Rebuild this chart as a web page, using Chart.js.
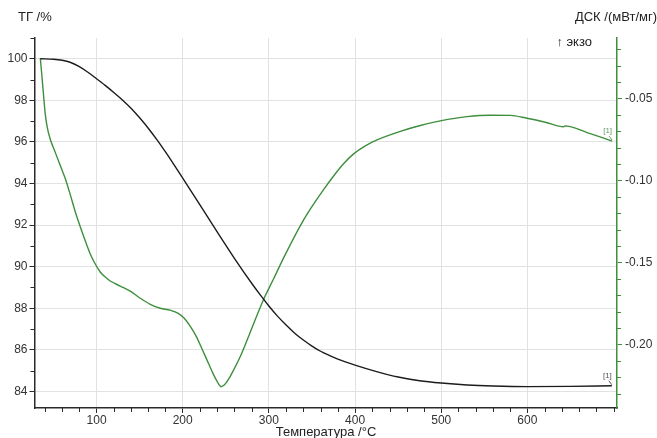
<!DOCTYPE html>
<html lang="ru">
<head>
<meta charset="utf-8">
<title>ТГ / ДСК</title>
<script src="https://cdn.jsdelivr.net/npm/chart.js@4.4.1/dist/chart.umd.min.js"></script>
<style>
  html, body { margin: 0; padding: 0; background: #fff; }
  #chartBox { width: 657px; height: 438px; }
</style>
</head>
<body>
<div id="chartBox"><canvas id="tgChart" width="657" height="438"></canvas></div>
<script>
// TG curve: temperature (°C) and remaining mass (%)
const tgTemp = [35, 50, 60, 70, 80, 90, 100, 110, 120, 130, 140, 150, 160, 170, 180, 190, 200, 220, 240, 260, 280, 290,
                300, 310, 320, 330, 340, 350, 360, 370, 380, 400, 425, 450, 475, 500, 530, 560, 600, 650, 698];
const tgMass = [100.0, 99.98, 99.93, 99.82, 99.62, 99.35, 99.04, 98.72, 98.38, 98.02, 97.62, 97.16, 96.66, 96.11, 95.52, 94.9, 94.26, 92.97, 91.67, 90.4, 89.2, 88.64,
                88.11, 87.62, 87.19, 86.8, 86.47, 86.18, 85.93, 85.73, 85.55, 85.26, 84.95, 84.69, 84.51, 84.4, 84.31, 84.26, 84.23, 84.24, 84.27];

// DSC curve: temperature (°C) and heat flow (mW/mg)
const dscTemp = [34.7, 36.4, 38.1, 40.5, 42.8, 46.3, 52.1, 57.9, 63.7, 69.5, 75.3, 81.1, 86.9, 92.7, 98.5, 104.3, 110.1, 115.9, 127.5, 139.1,
                 150.7, 162.3, 173.9, 185.5, 194.8, 201.8, 208.8, 215.7, 222.7, 229.7, 235.5, 240.1, 244.4, 248.2, 252.9, 258.7, 266.8, 277.6,
                 293.2, 305.1, 317.1, 336.4, 348.0, 363.5, 375.1, 386.4, 398.3, 411.9, 425.5, 452.5, 475.7, 498.9, 529.9, 557.0, 580.2, 599.6, 620.8,
                 642.1, 643.5, 669.3, 698.3];
const dscFlow = [-0.0252, -0.0350, -0.0454, -0.0595, -0.0675, -0.0748, -0.0828, -0.0908, -0.0988, -0.1086, -0.1190, -0.1282, -0.1368, -0.1448, -0.1509, -0.1558, -0.1589, -0.1613, -0.1644, -0.1675,
                 -0.1718, -0.1755, -0.1779, -0.1791, -0.1810, -0.1840, -0.1890, -0.1951, -0.2031, -0.2113, -0.2181, -0.2227, -0.2258, -0.2248, -0.2215, -0.2160, -0.2074, -0.1936,
                 -0.1733, -0.1604, -0.1472, -0.1276, -0.1175, -0.1055, -0.0972, -0.0899, -0.0837, -0.0788, -0.0752, -0.0700, -0.0664, -0.0636, -0.0610, -0.0601, -0.0602, -0.0620, -0.0644,
                 -0.0672, -0.0666, -0.0707, -0.0759];

// tick labels
const tempTicks = [100, 200, 300, 400, 500, 600];
const massTicks = [84, 86, 88, 90, 92, 94, 96, 98, 100];
const dscTicks = [-0.20, -0.15, -0.10, -0.05];

document.addEventListener('DOMContentLoaded', function() {
    const FONT = '"Liberation Sans", Arial, sans-serif';
    const GREEN = '#3d8f3d';
    const DARK = '#2a2a2a';

    // small unlabelled ticks between the major ones + captions
    const axisDecor = {
        id: 'axisDecor',
        afterDraw(chart) {
            const ctx = chart.ctx;
            const area = chart.chartArea;
            const sx = chart.scales.x, sy = chart.scales.y, sy2 = chart.scales.y2;
            ctx.save();
            ctx.lineWidth = 1;

            ctx.strokeStyle = DARK;
            ctx.beginPath();
            for (let t = 40; t <= 700; t += 20) {
                if (t % 100 === 0 && t <= 600) continue;
                const px = Math.round(sx.getPixelForValue(t)) + 0.5;
                ctx.moveTo(px, area.bottom);
                ctx.lineTo(px, area.bottom + 4);
            }
            for (let m = 85; m <= 101; m += 2) {
                const py = Math.round(sy.getPixelForValue(m)) + 0.5;
                ctx.moveTo(area.left - 4, py);
                ctx.lineTo(area.left, py);
            }
            ctx.stroke();

            ctx.strokeStyle = GREEN;
            ctx.beginPath();
            for (let k = -23; k <= -2; k++) {
                if (k % 5 === 0) continue;
                const py = Math.round(sy2.getPixelForValue(k / 100)) + 0.5;
                ctx.moveTo(area.right, py);
                ctx.lineTo(area.right + 4, py);
            }
            ctx.stroke();

            // captions
            ctx.fillStyle = '#222';
            ctx.font = '13px ' + FONT;
            ctx.textBaseline = 'middle';
            ctx.textAlign = 'left';
            ctx.fillText('ТГ /%', 18, 17);
            ctx.textAlign = 'right';
            ctx.fillText('ДСК /(мВт/мг)', 657, 17);
            ctx.fillText('↑ экзо', 592, 42);
            ctx.textAlign = 'center';
            ctx.fillText('Температура /°C', 326, 432);

            // [1] markers at the curve ends
            ctx.font = '8px ' + FONT;
            ctx.textAlign = 'right';
            ctx.textBaseline = 'bottom';
            const ends = [
                [tgTemp[tgTemp.length - 1], sy.getPixelForValue(tgMass[tgMass.length - 1]), '#555'],
                [dscTemp[dscTemp.length - 1], sy2.getPixelForValue(dscFlow[dscFlow.length - 1]), '#6a9a6a']
            ];
            ends.forEach(([t, py, col]) => {
                const px = sx.getPixelForValue(t);
                ctx.fillStyle = col;
                ctx.strokeStyle = col;
                ctx.fillText('[1]', px, py - 6);
                ctx.beginPath();
                ctx.moveTo(px - 3, py - 5);
                ctx.lineTo(px, py - 1);
                ctx.stroke();
            });
            ctx.restore();
        }
    };

    function buildChart() {
        const ctx = document.getElementById('tgChart').getContext('2d');
        new Chart(ctx, {
            type: 'line',
            data: {
                datasets: [{
                    label: 'ТГ',
                    data: tgTemp.map((t, i) => ({ x: t, y: tgMass[i] })),
                    yAxisID: 'y',
                    borderColor: '#1c1c1c',
                    borderWidth: 1.4,
                    pointRadius: 0,
                    cubicInterpolationMode: 'monotone'
                }, {
                    label: 'ДСК',
                    data: dscTemp.map((t, i) => ({ x: t, y: dscFlow[i] })),
                    yAxisID: 'y2',
                    borderColor: GREEN,
                    borderWidth: 1.4,
                    pointRadius: 0,
                    cubicInterpolationMode: 'monotone'
                }]
            },
            options: {
                responsive: false,
                animation: false,
                layout: { padding: { top: 38, left: 0, right: 0, bottom: 0 } },
                plugins: { legend: { display: false }, tooltip: { enabled: false } },
                scales: {
                    x: {
                        type: 'linear',
                        min: 28,
                        max: 704,
                        afterBuildTicks: s => { s.ticks = tempTicks.map(v => ({ value: v })); },
                        afterFit: s => { s.height = 30; },
                        ticks: { color: '#333', font: { family: FONT, size: 12 }, padding: 0, maxRotation: 0, autoSkip: false },
                        grid: { color: '#e2e2e2', lineWidth: 1, tickLength: 5, tickColor: DARK },
                        border: { color: DARK, width: 1.5 }
                    },
                    y: {
                        position: 'left',
                        min: 83.2,
                        max: 101,
                        afterBuildTicks: s => { s.ticks = massTicks.map(v => ({ value: v })); },
                        afterFit: s => { s.width = 34.5; },
                        ticks: { color: '#333', font: { family: FONT, size: 12 }, padding: 2 },
                        grid: { color: '#e2e2e2', lineWidth: 1, tickLength: 5, tickColor: DARK },
                        border: { color: DARK, width: 1.5 }
                    },
                    y2: {
                        position: 'right',
                        min: -0.2388,
                        max: -0.013,
                        afterBuildTicks: s => { s.ticks = dscTicks.map(v => ({ value: v })); },
                        afterFit: s => { s.width = 40; },
                        ticks: { color: '#333', font: { family: FONT, size: 12 }, padding: 3, callback: v => v.toFixed(2) },
                        grid: { drawOnChartArea: false, tickLength: 5, tickColor: GREEN },
                        border: { color: GREEN, width: 1.5 }
                    }
                }
            },
            plugins: [axisDecor]
        });
    }

    buildChart();
});
</script>
</body>
</html>
